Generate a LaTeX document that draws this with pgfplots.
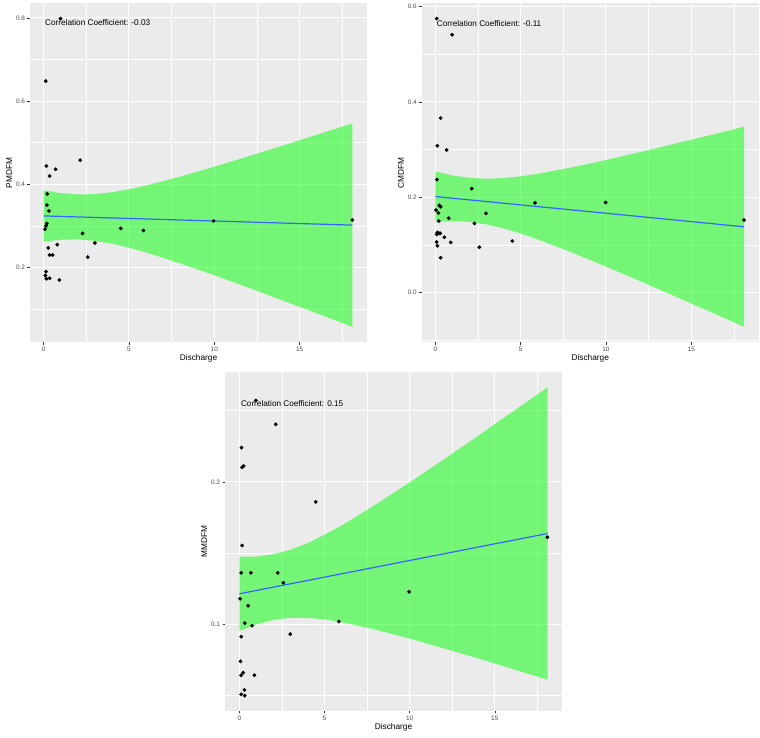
\documentclass[border=0pt]{standalone}
\usepackage{fontspec}
\setmainfont{Liberation Sans}
\usepackage{pgfplots}
\pgfplotsset{compat=1.18}
\definecolor{panelbg}{HTML}{EBEBEB}
\definecolor{ticklab}{HTML}{4D4D4D}
\definecolor{smoothblue}{HTML}{3366FF}
\definecolor{ribbon}{HTML}{00FF00}

\tikzset{ann/.style={anchor=west, inner sep=0pt, font=\fontsize{8.2}{9}\selectfont}}
\pgfplotsset{ggp/.style={
  scale only axis, width=337pt, height=339pt,
  axis background/.style={fill=panelbg},
  axis line style={draw=none},
  grid=both,
  major grid style={white, line width=1pt},
  minor grid style={white, line width=0.5pt},
  tick align=outside, xtick pos=left, ytick pos=left,
  major tick length=2.5pt, minor tick length=0pt,
  tick style={color=black!80, line width=0.5pt},
  ticklabel style={font=\fontsize{6.4}{7}\selectfont, text=ticklab},
  xticklabel style={yshift=1pt},
  yticklabel style={xshift=1pt},
  label style={font=\fontsize{8.3}{9}\selectfont},
  /pgf/number format/assume math mode=true,
  xtick={0,5,10,15}, xticklabels={0,5,10,15},
  minor xtick={2.5,7.5,12.5,17.5},
  xlabel={Discharge},
  xlabel style={yshift=4pt},
  ylabel style={yshift=-3pt},
  clip=true,
},
pts/.style={only marks, mark=*, mark size=1.7pt, black},
rib/.style={fill=ribbon, fill opacity=0.5, draw=none},
fit/.style={smoothblue, line width=1.2pt, no marks},
}

\begin{document}
\begin{tikzpicture}[x=1pt,y=1pt]
\useasboundingbox (0,0) rectangle (760,738);

% ---------- Panel 1: PMDFM ----------
\begin{axis}[ggp, at={(30pt,395.7pt)}, anchor=south west,
  xmin=-0.8, xmax=18.95, ymin=0.0203, ymax=0.835,
  ytick={0.2,0.4,0.6,0.8}, yticklabels={0.2,0.4,0.6,0.8},
  minor ytick={0.1,0.3,0.5,0.7},
  ylabel={PMDFM}]
\addplot[pts] coordinates {
(0.99,0.798) (0.12,0.648) (0.16,0.444) (0.70,0.436) (0.35,0.420) (2.14,0.458)
(0.21,0.377) (0.19,0.350) (0.31,0.336) (0.19,0.306) (0.14,0.300) (0.08,0.292)
(2.28,0.282) (4.52,0.294) (5.85,0.289) (9.96,0.312) (18.09,0.314) (3.00,0.259)
(0.80,0.255) (0.27,0.247) (0.35,0.230) (0.53,0.230) (2.59,0.225) (0.14,0.190)
(0.10,0.181) (0.16,0.173) (0.35,0.174) (0.92,0.170)};
\addplot[rib] coordinates {
(0,0.3855) (1,0.3788) (2,0.3756) (3,0.3764) (4,0.3809) (5,0.3880) (6,0.3971)
(8,0.4184) (10,0.4422) (12,0.4672) (14,0.4928) (16,0.5189) (18.1,0.5465)
(18.1,0.0573) (16,0.0901) (14,0.1210) (12,0.1516) (10,0.1814) (8,0.2100)
(6,0.2363) (5,0.2478) (4,0.2573) (3,0.2642) (2,0.2676) (1,0.2668) (0,0.2625)} -- cycle;
\addplot[fit] coordinates {(0,0.324) (18.1,0.3019)};
\node[ann] at (axis cs:0.08,0.788) {Correlation Coefficient: -0.03};
\end{axis}

% ---------- Panel 2: CMDFM ----------
\begin{axis}[ggp, at={(421.7pt,395.7pt)}, anchor=south west,
  xmin=-0.8, xmax=18.95, ymin=-0.1045, ymax=0.607,
  ytick={0,0.2,0.4,0.6}, yticklabels={0.0,0.2,0.4,0.6},
  minor ytick={-0.1,0.1,0.3,0.5},
  ylabel={CMDFM}]
\addplot[pts] coordinates {
(0.08,0.575) (0.98,0.541) (0.31,0.366) (0.12,0.308) (0.66,0.299) (0.10,0.237)
(2.13,0.218) (5.84,0.188) (9.98,0.189) (18.09,0.152) (0.04,0.173) (0.23,0.183)
(0.31,0.180) (0.18,0.167) (0.20,0.150) (0.78,0.156) (2.97,0.166) (2.29,0.145)
(0.12,0.126) (0.23,0.124) (0.08,0.122) (0.29,0.124) (0.53,0.116) (0.08,0.106)
(0.90,0.105) (4.51,0.108) (0.12,0.098) (2.58,0.095) (0.31,0.073)};
\addplot[rib] coordinates {
(0,0.2539) (1,0.2456) (2,0.2405) (3,0.2388) (4,0.2401) (5,0.2439) (6,0.2491)
(8,0.2626) (10,0.2781) (12,0.2947) (14,0.3119) (16,0.3292) (18.1,0.3479)
(18.1,-0.0721) (16,-0.0388) (14,-0.0073) (12,0.0239) (10,0.0545) (8,0.0840)
(6,0.1115) (5,0.1239) (4,0.1347) (3,0.1430) (2,0.1483) (1,0.1502) (0,0.1489)} -- cycle;
\addplot[fit] coordinates {(0,0.2014) (18.1,0.1379)};
\node[ann] at (axis cs:0.08,0.565) {Correlation Coefficient: -0.11};
\end{axis}

% ---------- Panel 3: MMDFM ----------
\begin{axis}[ggp, at={(225pt,27pt)}, anchor=south west,
  xmin=-0.85, xmax=18.95, ymin=0.0392, ymax=0.2772,
  ytick={0.1,0.2}, yticklabels={0.1,0.2},
  minor ytick={0.05,0.15,0.25},
  ylabel={MMDFM}]
\addplot[pts] coordinates {
(0.96,0.2572) (2.13,0.2404) (0.12,0.2241) (0.16,0.2103) (0.25,0.2112) (4.48,0.1860)
(0.16,0.1554) (18.09,0.1612) (0.10,0.1362) (0.67,0.1362) (2.25,0.1362) (2.58,0.1292)
(9.97,0.1229) (0.04,0.1180) (0.51,0.1131) (0.31,0.1009) (0.74,0.0991) (5.84,0.1021)
(0.10,0.0914) (2.98,0.0932) (0.06,0.0741) (0.10,0.0643) (0.22,0.0661) (0.88,0.0643)
(0.29,0.0540) (0.10,0.0509) (0.31,0.0500)};
\addplot[rib] coordinates {
(0,0.1476) (1,0.1476) (2,0.1492) (3,0.1524) (4,0.1570) (5,0.1629) (6,0.1694)
(8,0.1841) (10,0.1997) (12,0.2158) (14,0.2322) (16,0.2489) (18.1,0.2664)
(18.1,0.0612) (16,0.0689) (14,0.0762) (12,0.0832) (10,0.0901) (8,0.0963)
(6,0.1016) (5,0.1035) (4,0.1046) (3,0.1046) (2,0.1032) (1,0.1000) (0,0.0954)} -- cycle;
\addplot[fit] coordinates {(0,0.1215) (18.1,0.1638)};
\node[ann] at (axis cs:0.08,0.2547) {Correlation Coefficient: 0.15};
\end{axis}
\end{tikzpicture}
\end{document}
